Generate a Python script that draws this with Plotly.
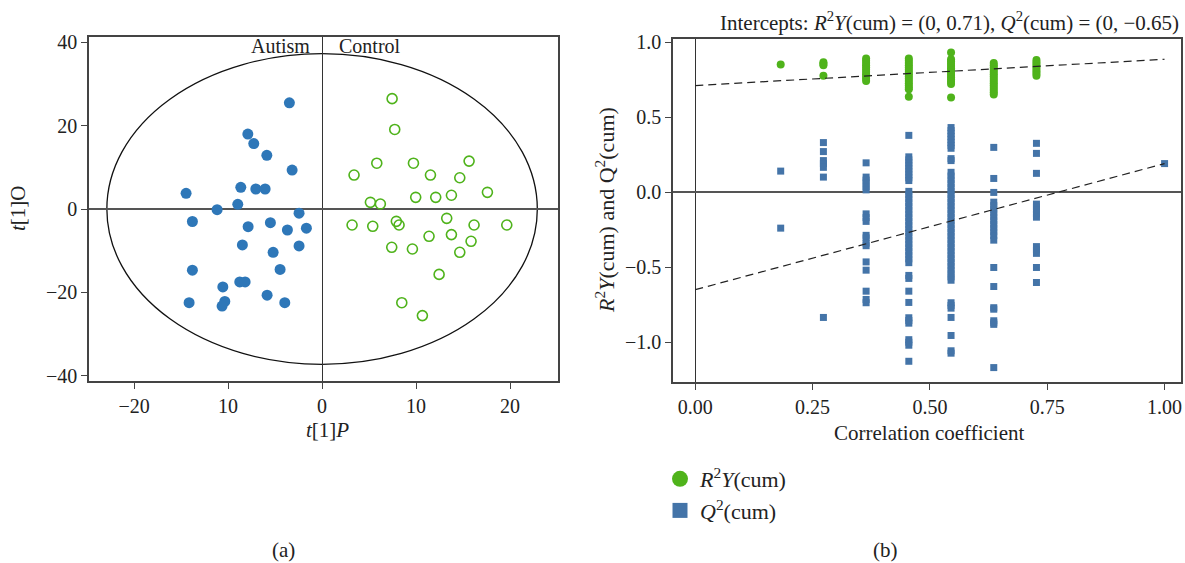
import plotly.graph_objects as go

# ---------------- (a) OPLS-DA score plot ----------------
autism_t1p = [-3.48, -7.9, -7.27, -5.88, -3.19, -14.47, -8.65, -7.05, -6.06, -8.97, -11.17, -2.45,
              -13.8, -7.87, -5.5, -3.69, -1.67, -8.48, -5.21, -2.45, -4.47, -13.8, -10.56, -8.76,
              -8.19, -5.85, -14.15, -10.35, -10.64, -3.97]
autism_t1o = [25.5, 18.0, 15.7, 12.9, 9.35, 3.76, 5.2, 4.8, 4.8, 1.12, -0.16, -1.0,
              -3.0, -4.24, -3.28, -5.04, -4.6, -8.63, -10.4, -8.87, -14.5, -14.7, -18.7, -17.5,
              -17.5, -20.7, -22.5, -22.2, -23.3, -22.5]

control_t1p = [7.45, 7.73, 5.82, 9.72, 15.64, 3.4, 11.53, 14.65, 17.59, 9.96, 12.09, 13.76, 5.14, 6.2,
               13.26, 3.19, 5.39, 7.9, 8.19, 16.17, 19.65, 13.76, 11.38, 15.85, 7.41, 9.61, 14.65,
               12.45, 8.48, 10.67]
control_t1o = [26.5, 19.1, 11.0, 11.0, 11.5, 8.15, 8.15, 7.5, 4.0, 2.8, 2.8, 3.3, 1.6, 1.2,
               -2.24, -3.84, -4.16, -2.96, -3.84, -3.84, -3.84, -6.15, -6.55, -7.75, -9.2, -9.6, -10.4,
               -15.7, -22.5, -25.6]

ellipse_semi_axes = [22.9, 37.3]  # Hotelling T2 ellipse (t[1]P, t[1]O)

a_xticks = [-20, -10, 0, 10, 20]
a_xticktext = ["\u221220", "10", "0", "10", "20"]
a_yticks = [-40, -20, 0, 20, 40]
a_yticktext = ["\u221240", "\u221220", "0", "20", "40"]

# ---------------- (b) permutation test ----------------
corr_levels = [0.182, 0.273, 0.364, 0.455, 0.545, 0.636, 0.727, 1.0]

r2y_by_level = [
    [0.85],
    [0.865, 0.855, 0.845, 0.775],
    [0.89, 0.875, 0.86, 0.845, 0.83, 0.815, 0.80, 0.785, 0.77, 0.755, 0.74],
    [0.89, 0.875, 0.86, 0.845, 0.83, 0.815, 0.80, 0.785, 0.77, 0.755, 0.74, 0.725, 0.71, 0.695, 0.685, 0.635],
    [0.93, 0.885, 0.87, 0.855, 0.84, 0.825, 0.81, 0.795, 0.78, 0.765, 0.75, 0.735, 0.72, 0.63],
    [0.86, 0.845, 0.83, 0.815, 0.80, 0.785, 0.77, 0.755, 0.74, 0.725, 0.71, 0.695, 0.68, 0.665, 0.65],
    [0.88, 0.865, 0.85, 0.835, 0.82, 0.805, 0.79, 0.775],
    [],
]

q2_by_level = [
    [0.14, -0.24],
    [0.33, 0.27, 0.21, 0.19, 0.165, 0.10, -0.835],
    [0.195, 0.10, 0.08, 0.06, 0.035, 0.015, -0.145, -0.17, -0.195, -0.288, -0.305, -0.34, -0.357,
     -0.465, -0.52, -0.66, -0.715, -0.737],
    [0.378, 0.235, 0.215, 0.195, 0.175, 0.155, 0.135, 0.115, 0.095, 0.077,
     0.005, -0.02, -0.045, -0.07, -0.095, -0.12, -0.145, -0.17, -0.195, -0.22, -0.245, -0.27,
     -0.295, -0.32, -0.345, -0.37, -0.395, -0.42, -0.445, -0.47,
     -0.555, -0.575, -0.66, -0.735, -0.837, -0.855, -0.873, -0.983, -1.0, -1.02, -1.127],
    [0.43, 0.41, 0.39, 0.37, 0.35, 0.33, 0.31, 0.292, 0.223, 0.21,
     0.132, 0.107, 0.082, 0.057, 0.032, 0.007, -0.018, -0.043, -0.068, -0.093, -0.118, -0.143,
     -0.168, -0.193, -0.218, -0.243, -0.268, -0.293, -0.318, -0.343, -0.368, -0.393, -0.418,
     -0.443, -0.468, -0.493, -0.518, -0.543, -0.565, -0.587,
     -0.737, -0.755, -0.773, -0.835, -0.955, -1.057, -1.073],
    [0.298, 0.091, -0.002, -0.067, -0.09, -0.115, -0.14, -0.165, -0.19, -0.215, -0.24, -0.265,
     -0.29, -0.32, -0.502, -0.629, -0.77, -0.78, -0.857, -0.87, -0.881, -1.169],
    [0.325, 0.258, 0.125, -0.08, -0.1, -0.12, -0.145, -0.167, -0.363, -0.385, -0.408, -0.502, -0.602],
    [0.19],
]

reg_x = [0.0, 1.0]
r2y_reg = [0.71, 0.885]
q2_reg = [-0.65, 0.19]

b_xticks = [0.0, 0.25, 0.5, 0.75, 1.0]
b_yticks = [-1.0, -0.5, 0.0, 0.5, 1.0]

# colours
BLUE_A = "#2e77b8"
GREEN = "#4fb31b"
BLUE_B = "#4474a8"
FONT = "Liberation Serif"

W, H = 1185, 563
def px(x):
    return x / W
def py(y):
    return 1 - y / H

fig = go.Figure()

# (a)
fig.add_trace(go.Scatter(x=autism_t1p, y=autism_t1o, mode="markers", xaxis="x", yaxis="y",
                         marker=dict(color=BLUE_A, size=11, line=dict(width=0)), showlegend=False))
fig.add_trace(go.Scatter(x=control_t1p, y=control_t1o, mode="markers", xaxis="x", yaxis="y",
                         marker=dict(color=GREEN, size=10, symbol="circle-open",
                                     line=dict(color=GREEN, width=1.6)), showlegend=False))

# (b)
r2y_x = [c for c, vals in zip(corr_levels, r2y_by_level) for _ in vals]
r2y_y = [v for vals in r2y_by_level for v in vals]
q2_x = [c for c, vals in zip(corr_levels, q2_by_level) for _ in vals]
q2_y = [v for vals in q2_by_level for v in vals]

fig.add_trace(go.Scatter(x=r2y_x, y=r2y_y, mode="markers", xaxis="x2", yaxis="y2",
                         marker=dict(color=GREEN, size=8, line=dict(width=0)), showlegend=False))
fig.add_trace(go.Scatter(x=q2_x, y=q2_y, mode="markers", xaxis="x2", yaxis="y2",
                         marker=dict(color=BLUE_B, size=7, symbol="square", line=dict(width=0)),
                         showlegend=False))
fig.add_trace(go.Scatter(x=reg_x, y=r2y_reg, mode="lines", xaxis="x2", yaxis="y2",
                         line=dict(color="#222", width=1.2, dash="8px,5px"), showlegend=False))
fig.add_trace(go.Scatter(x=reg_x, y=q2_reg, mode="lines", xaxis="x2", yaxis="y2",
                         line=dict(color="#222", width=1.2, dash="8px,5px"), showlegend=False))

# legend entries
fig.add_trace(go.Scatter(x=[None], y=[None], mode="markers", xaxis="x2", yaxis="y2",
                         marker=dict(color=GREEN, size=16, symbol="circle"),
                         name="<i>R</i><sup>2</sup><i>Y</i>(cum)"))
fig.add_trace(go.Scatter(x=[None], y=[None], mode="markers", xaxis="x2", yaxis="y2",
                         marker=dict(color=BLUE_B, size=15, symbol="square"),
                         name="<i>Q</i><sup>2</sup>(cum)"))

axis_common = dict(showgrid=False, showline=True, linecolor="#444", linewidth=1.5, mirror=True,
                   ticks="outside", ticklen=6, tickwidth=1.3, tickcolor="#444", automargin=False,
                   tickfont=dict(family=FONT, size=20, color="#222"))

fig.update_layout(
    width=W, height=H,
    margin=dict(l=0, r=0, t=0, b=0, autoexpand=False),
    paper_bgcolor="white", plot_bgcolor="white",
    font=dict(family=FONT, size=20, color="#222"),
    xaxis=dict(domain=[px(89), px(558)], range=[-24.8, 25.1], tickvals=a_xticks, ticktext=a_xticktext,
               zeroline=True, zerolinecolor="#333", zerolinewidth=1.4, anchor="y", **axis_common),
    yaxis=dict(domain=[py(381), py(37)], range=[-41.3, 41.3], tickvals=a_yticks, ticktext=a_yticktext,
               zeroline=True, zerolinecolor="#555", zerolinewidth=2, anchor="x", **axis_common),
    xaxis2=dict(domain=[px(673), px(1181)], range=[-0.0475, 1.035], tickvals=b_xticks, tickformat=".2f",
                zeroline=True, zerolinecolor="#333", zerolinewidth=1.4, anchor="y2", **axis_common),
    yaxis2=dict(domain=[py(382), py(39)], range=[-1.265, 1.02], tickvals=b_yticks, tickformat=".1f",
                zeroline=True, zerolinecolor="#555", zerolinewidth=2, anchor="x2", **axis_common),
    legend=dict(x=px(660), y=py(458), xanchor="left", yanchor="top",
                font=dict(family=FONT, size=22, color="#222"), bgcolor="rgba(0,0,0,0)",
                tracegroupgap=0, itemsizing="trace"),
    showlegend=True,
)

# ellipse
fig.add_shape(type="circle", xref="x", yref="y",
              x0=-ellipse_semi_axes[0], x1=ellipse_semi_axes[0],
              y0=-ellipse_semi_axes[1], y1=ellipse_semi_axes[1],
              line=dict(color="#111", width=1.3), layer="below")

ann = []
def text(x, y, t, size=21, xanchor="center", yanchor="middle", angle=0):
    ann.append(dict(x=px(x), y=py(y), xref="paper", yref="paper", text=t, showarrow=False,
                    xanchor=xanchor, yanchor=yanchor, textangle=angle,
                    font=dict(family=FONT, size=size, color="#222")))

text(312, 46, "Autism", size=20, xanchor="right")
text(337, 46, "Control", size=20, xanchor="left")
text(18, 208, "<i>t</i>[1]O", angle=-90)
text(327, 430, "<i>t</i>[1]<i>P</i>")
text(283, 550, "(a)")
text(605, 210, "<i>R</i><sup>2</sup><i>Y</i>(cum) and Q<sup>2</sup>(cum)", size=22, angle=-90)
text(929, 433, "Correlation coefficient")
text(1181, 22, "Intercepts: <i>R</i><sup>2</sup><i>Y</i>(cum) = (0, 0.71), <i>Q</i><sup>2</sup>(cum) = (0, \u22120.65)",
     size=21, xanchor="right")
text(886, 550, "(b)")
fig.update_layout(annotations=ann)

fig.write_html("out.html", config={"displayModeBar": False},
               post_script="document.body.style.margin='0';document.body.style.overflow='hidden';")
